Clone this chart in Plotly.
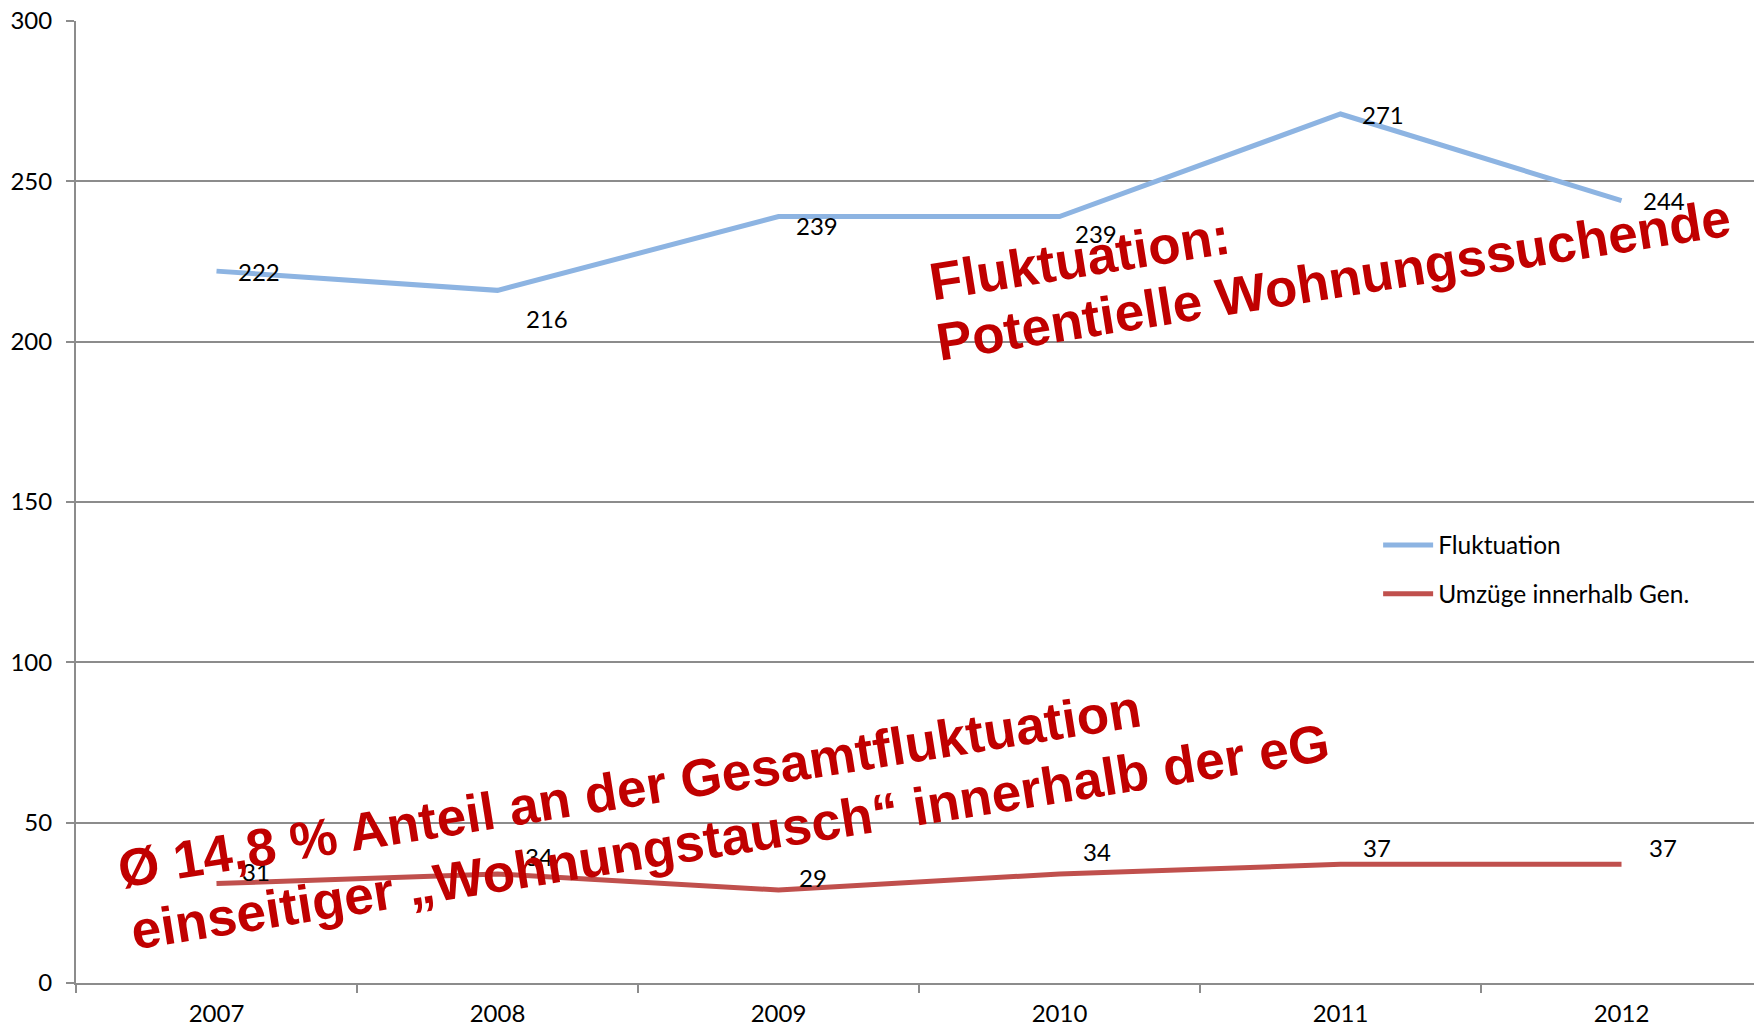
import plotly.graph_objects as go

years = ["2007", "2008", "2009", "2010", "2011", "2012"]
fluktuation = [222, 216, 239, 239, 271, 244]
umzuege = [31, 34, 29, 34, 37, 37]
y_ticks = [0, 50, 100, 150, 200, 250, 300]

series_names = ["Fluktuation", "Umzüge innerhalb Gen."]

# label offsets (pixels) relative to each point
flu_label_dx = [42, 49, 38, 36, 42, 42]
flu_label_dy = [0, -28, -9, -17, -1, 0]
umz_label_dx = [39, 41, 34, 37, 36, 41]
umz_label_dy = [12, 17, 13, 22, 17, 17]

BLUE = "#8DB4E2"
RED = "#C0504D"
GRID = "#8C8C8C"
TXT_FONT = "Lato"

fig = go.Figure()
fig.add_trace(go.Scatter(x=years, y=fluktuation, mode="lines", name=series_names[0],
                         line=dict(color=BLUE, width=5), legendgroup="a"))
fig.add_trace(go.Scatter(x=years, y=umzuege, mode="lines", name=series_names[1],
                         line=dict(color=RED, width=5), legendgroup="b"))

annotations = []
for vals, dxs, dys in [(fluktuation, flu_label_dx, flu_label_dy),
                       (umzuege, umz_label_dx, umz_label_dy)]:
    for i, (v, dx, dy) in enumerate(zip(vals, dxs, dys)):
        annotations.append(dict(x=i, y=v, xref="x", yref="y", text=str(v), showarrow=False,
                                xshift=dx, yshift=dy,
                                font=dict(family=TXT_FONT, size=24, color="#000000")))

big_font = dict(family="Liberation Sans", size=53, color="#C00000", weight="bold")
big_texts = [
    ("Fluktuation:", 0.598, 0.7526),
    ("Potentielle Wohnungssuchende", 0.7497, 0.7308),
    ("Ø 14,8 % Anteil an der Gesamtfluktuation", 0.330, 0.2017),
    ("einseitiger „Wohnungstausch“ innerhalb der eG", 0.3897, 0.1518),
]
for t, xp, yp in big_texts:
    annotations.append(dict(x=xp, y=yp, xref="paper", yref="paper", text=t, showarrow=False,
                            textangle=-9, xanchor="center", yanchor="middle", font=big_font))

fig.update_layout(
    width=1754, height=1028,
    margin=dict(l=76, r=0, t=21, b=45),
    paper_bgcolor="white", plot_bgcolor="white",
    showlegend=True,
    legend=dict(x=0.776, y=0.4787, xanchor="left", yanchor="top", itemwidth=50,
                font=dict(family=TXT_FONT, size=24.5, color="#000000"),
                bgcolor="rgba(0,0,0,0)", tracegroupgap=14),
    annotations=annotations,
    xaxis=dict(type="category", range=[-0.5, 5.4715], tickson="boundaries",
               ticks="outside", ticklen=8, tickcolor=GRID, tickwidth=2,
               showline=True, linecolor=GRID, linewidth=2, showgrid=False,
               tickfont=dict(family=TXT_FONT, size=24, color="#000000"),
               ticklabelstandoff=8, automargin=False),
    yaxis=dict(range=[0, 300], tickvals=y_ticks, ticks="outside", ticklen=8,
               tickcolor=GRID, tickwidth=2, showline=True, linecolor=GRID, linewidth=2,
               showgrid=True, gridcolor=GRID, gridwidth=2, zeroline=False,
               tickfont=dict(family=TXT_FONT, size=24, color="#000000"),
               ticklabelstandoff=9, automargin=False),
)

fig.write_html("out.html", config={"displayModeBar": False},
               post_script="document.body.style.margin='0';document.body.style.padding='0';")
